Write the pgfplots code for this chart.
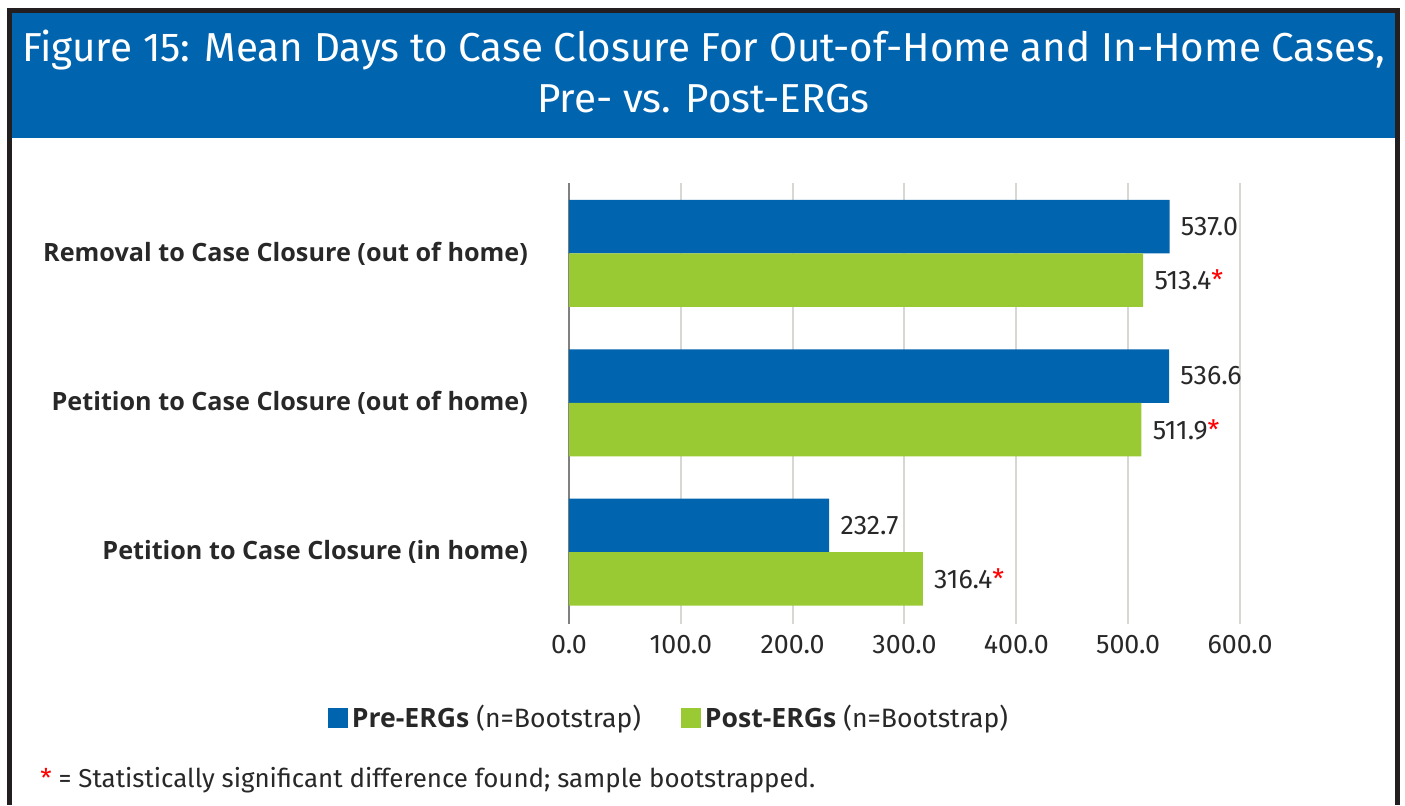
\documentclass[border=0pt]{standalone}
\usepackage{pgfplots}
\pgfplotsset{compat=1.18}
\usepackage{fontspec}
\setmainfont{Fira Sans}
\newfontfamily\osans{Open Sans}
\definecolor{ergblue}{RGB}{0,100,175}
\definecolor{erggreen}{RGB}{154,202,51}
\definecolor{framec}{RGB}{35,31,32}
\definecolor{txt}{RGB}{40,40,40}
\definecolor{gridc}{RGB}{217,215,212}
\definecolor{axisc}{RGB}{128,128,128}
\newcommand{\sig}{\textcolor{red}{*}}
\begin{document}
\begin{tikzpicture}
\begin{scope}[x=0.5pt,y=-0.5pt]
\path[use as bounding box] (0,0) rectangle (1405,805);
\fill[white] (0,0) rectangle (1405,805);
\fill[framec] (7,8) rectangle (1400,805);
\fill[white] (12,13) rectangle (1395,805);
\fill[ergblue] (12,13) rectangle (1395,138);
\node[white, font=\fontsize{20.2}{25.5}\selectfont, align=center, inner sep=0pt] at (703.5,71) {Figure 15: Mean Days to Case Closure For Out-of-Home and In-Home Cases,\\Pre- vs. Post-ERGs};
\node[txt, anchor=west, inner sep=0pt, font=\fontsize{12.95}{15}\selectfont] at (40,780) {\textcolor{red}{*} = Statistically significant difference found; sample bootstrapped.};
\end{scope}
\begin{axis}[
  at={(284.5pt,-312pt)}, anchor=south west,
  width=335.5pt, height=220.5pt, scale only axis,
  xbar, bar width=26.75pt,
  xmin=0, xmax=600,
  ymin=-0.482, ymax=2.472,
  xtick={0,100,200,300,400,500,600},
  xticklabels={0.0,100.0,200.0,300.0,400.0,500.0,600.0},
  ytick={0,1,2},
  yticklabels={Petition to Case Closure (in home),Petition to Case Closure (out of home),Removal to Case Closure (out of home)},
  major tick length=0pt,
  xmajorgrids, grid style={gridc, line width=1pt},
  axis y line*=left, axis x line*=bottom,
  x axis line style={draw=none},
  y axis line style={axisc, line width=1pt, -},
  xticklabel style={font=\fontsize{13.4}{16}\selectfont, text=txt, yshift=-2pt},
  yticklabel style={font=\fontsize{12.6}{16}\selectfont\osans\bfseries, text=txt, xshift=-17pt},
  point meta=explicit symbolic,
  nodes near coords,
  nodes near coords style={anchor=west, inner sep=0pt, xshift=5.5pt, font=\fontsize{13.4}{16}\selectfont, text=txt},
  legend style={at={(0.1505,-0.213)}, anchor=center, draw=none, legend columns=2,
    font=\fontsize{13.3}{16}\selectfont, text=txt,
    /tikz/every even column/.append style={column sep=18pt},
    nodes={inner sep=2pt}},
  legend image code/.code={\fill[#1,draw=none] (0pt,-5pt) rectangle (10pt,5pt);},
]
\addplot[fill=ergblue, draw=none, bar shift=13.375pt] coordinates {
  (537.0,2) [537.0]
  (536.6,1) [536.6]
  (232.7,0) [232.7]
};
\addlegendentry{{\osans\bfseries Pre-ERGs} (n=Bootstrap)}
\addplot[fill=erggreen, draw=none, bar shift=-13.375pt] coordinates {
  (513.4,2) [513.4\sig]
  (511.9,1) [511.9\sig]
  (316.4,0) [316.4\sig]
};
\addlegendentry{{\osans\bfseries Post-ERGs} (n=Bootstrap)}
\end{axis}
\end{tikzpicture}
\end{document}
